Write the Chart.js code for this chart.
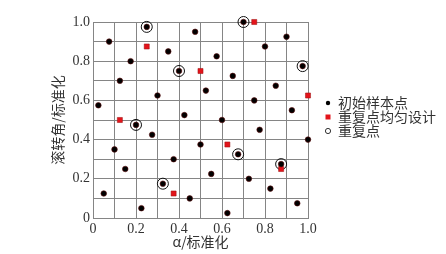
<!DOCTYPE html>
<html>
<head>
<meta charset="utf-8">
<script src="https://cdn.jsdelivr.net/npm/chart.js@4"></script>
<style>
html,body{margin:0;padding:0;background:#fff;}
#wrap{width:446px;height:254px;position:relative;}
</style>
</head>
<body>
<div id="wrap"><canvas id="c" width="446" height="254"></canvas></div>
<script>
// Initial samples (40 points)
const sampleX = [0.075,0.25,0.175,0.125,0.35,0.4,0.475,0.575,0.525,0.3,0.65,0.7,0.8,0.9,0.975,0.85,0.75,0.925,0.025,0.425,0.6,0.2,0.275,0.775,0.1,0.5,1.0,0.675,0.375,0.15,0.55,0.875,0.725,0.325,0.825,0.05,0.45,0.225,0.95,0.625];
const sampleY = [0.9,0.975,0.8,0.7,0.85,0.75,0.95,0.825,0.65,0.625,0.725,1.0,0.875,0.925,0.775,0.675,0.6,0.55,0.575,0.525,0.5,0.475,0.425,0.45,0.35,0.375,0.4,0.325,0.3,0.25,0.225,0.275,0.2,0.175,0.15,0.125,0.1,0.05,0.075,0.025];
// Uniform design of repeat points
const uniformX = [0.125,0.25,0.375,0.5,0.625,0.75,0.875,1.0];
const uniformY = [0.5,0.875,0.125,0.75,0.375,1.0,0.25,0.625];
// Repeat points (circled)
const repeatX = [0.25,0.4,0.7,0.975,0.2,0.675,0.875,0.325];
const repeatY = [0.975,0.75,1.0,0.775,0.475,0.325,0.275,0.175];
// Labels
const seriesNames = ['初始样本点','重复点均匀设计','重复点'];
const xTickLabels = ['0','0.2','0.4','0.6','0.8','1.0'];
const yTickLabels = ['0','0.2','0.4','0.6','0.8','1.0'];
const xTitle = 'α/标准化';
const yTitle = '滚转角/标准化';

const toPts = (xs, ys) => xs.map((x, i) => ({x: x, y: ys[i]}));
const tickCb = labels => v => {
  const k = Math.round(v * 10);
  return k % 2 === 0 ? labels[k / 2] : '';
};
const GRID = '#858585';
const serif = {family: '"Liberation Serif", "DejaVu Serif", serif', size: 14};
const cjk = {family: '"Noto Sans CJK SC", "Noto Sans", sans-serif', size: 14};
const LEGEND_W = 113;

// small legend marker images
function marker(draw) {
  const c = document.createElement('canvas');
  c.width = 8; c.height = 8;
  draw(c.getContext('2d'));
  return c;
}
const legendMarkers = [
  marker(g => { g.fillStyle = '#000'; g.beginPath(); g.arc(4, 4, 2.2, 0, Math.PI * 2); g.fill(); }),
  marker(g => { g.fillStyle = '#e3141b'; g.fillRect(1.5, 1.5, 5, 5); }),
  marker(g => { g.strokeStyle = '#333'; g.lineWidth = 1; g.beginPath(); g.arc(4, 4, 2.6, 0, Math.PI * 2); g.stroke(); })
];

const legendWidthPlugin = {
  id: 'legendWidth',
  afterInit(chart) {
    const lg = chart.legend;
    if (!lg) return;
    const orig = lg.fit.bind(lg);
    lg.fit = function () { orig(); this.width = LEGEND_W; };
  }
};

const chart = new Chart(document.getElementById('c'), {
  type: 'scatter',
  data: {
    datasets: [
      {label: seriesNames[0], data: toPts(sampleX, sampleY), pointStyle: 'circle',
       backgroundColor: '#000', borderColor: '#5a0a0a', borderWidth: 0.6, pointRadius: 2.8, clip: false},
      {label: seriesNames[1], data: toPts(uniformX, uniformY), pointStyle: 'rect',
       backgroundColor: '#e3141b', borderColor: '#9a1010', borderWidth: 0.5, pointRadius: 3.6, clip: false},
      {label: seriesNames[2], data: toPts(repeatX, repeatY), pointStyle: 'circle',
       backgroundColor: 'rgba(0,0,0,0)', borderColor: '#111', borderWidth: 1, pointRadius: 5.5, clip: false}
    ]
  },
  plugins: [legendWidthPlugin],
  options: {
    responsive: false,
    animation: false,
    events: [],
    layout: {padding: {top: 22, right: 8, bottom: 0, left: 0}},
    plugins: {
      tooltip: {enabled: false},
      legend: {
        position: 'right',
        align: 'start',
        fullSize: false,
        title: {display: true, text: ' ', font: {size: 10}, padding: {top: 62, bottom: 0}},
        labels: {
          usePointStyle: true, boxWidth: 6, boxHeight: 6, padding: 0,
          color: '#333', font: cjk,
          generateLabels: chart => {
            const items = Chart.defaults.plugins.legend.labels.generateLabels(chart);
            items.forEach((it, i) => { it.pointStyle = legendMarkers[i]; });
            return items;
          }
        }
      }
    },
    scales: {
      x: {
        type: 'linear', min: 0, max: 1,
        afterFit: s => { s.height = 36; },
        ticks: {stepSize: 0.1, autoSkip: false, maxRotation: 0, padding: 3, color: '#333', font: serif,
                callback: tickCb(xTickLabels)},
        grid: {color: GRID, lineWidth: 1, drawTicks: false},
        border: {display: true, color: GRID},
        title: {display: true, text: xTitle, color: '#333', font: cjk, padding: {top: 0, bottom: 4}}
      },
      y: {
        type: 'linear', min: 0, max: 1,
        afterFit: s => { s.width = 93; },
        ticks: {stepSize: 0.1, autoSkip: false, padding: 3, color: '#333', font: serif,
                callback: tickCb(yTickLabels)},
        grid: {color: GRID, lineWidth: 1, drawTicks: false},
        border: {display: true, color: GRID},
        title: {display: true, text: yTitle, color: '#333', font: cjk, padding: {top: 49, bottom: 0}}
      },
      gap: {
        type: 'linear', position: 'right', display: true,
        afterFit: s => { s.width = 17; },
        ticks: {display: false}, grid: {display: false}, border: {display: false}
      }
    }
  }
});
chart.update();
</script>
</body>
</html>
